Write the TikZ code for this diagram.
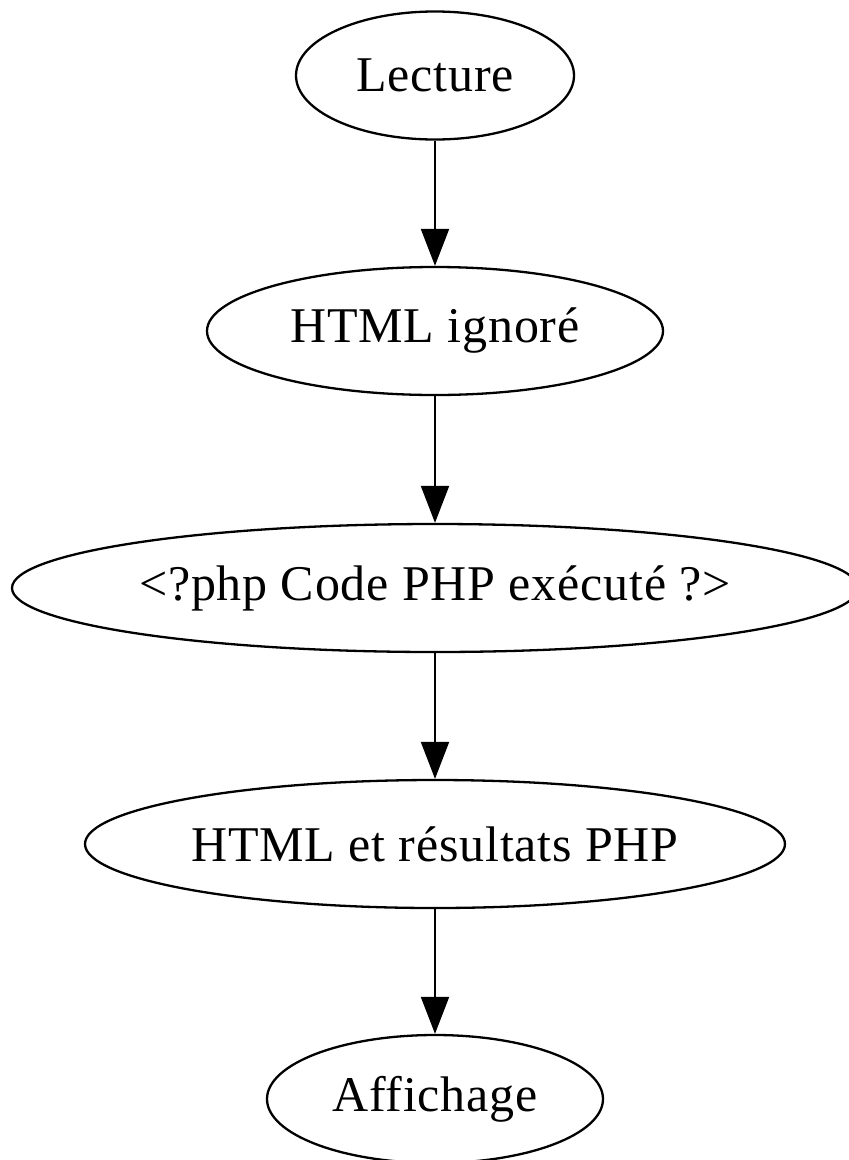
\documentclass[tikz,border=0pt]{standalone}
\usepackage{fontspec}
\setmainfont[LetterSpace=1.6]{Liberation Serif}
\usetikzlibrary{shapes.geometric,arrows.meta}
\tikzset{
  gnode/.style={draw=black, line width=2.3pt, ellipse, inner sep=0pt,
    minimum height=128pt, font=\fontsize{50}{60}\selectfont},
  garrow/.style={draw=black, line width=2.1pt,
    -{Triangle[length=37pt,width=28pt]}},
}
\begin{document}
\begin{tikzpicture}[x=1pt,y=-1pt]
\clip (0,0) rectangle (849,1160);
\useasboundingbox (0,0) rectangle (849,1160);
\node[gnode, minimum width=278pt] (n1) at (435,75.5) {Lecture};
\node[gnode, minimum width=456pt] (n2) at (435,331) {HTML ignoré};
\node[gnode, minimum width=846pt] (n3) at (435,588) {<?php Code PHP exécuté ?>};
\node[gnode, minimum width=700pt] (n4) at (435,844) {HTML et résultats PHP};
\node[gnode, minimum width=336pt] (n5) at (435,1099) {Affichage};
\draw[garrow] (n1) -- (n2);
\draw[garrow] (n2) -- (n3);
\draw[garrow] (n3) -- (n4);
\draw[garrow] (n4) -- (n5);
\end{tikzpicture}
\end{document}
